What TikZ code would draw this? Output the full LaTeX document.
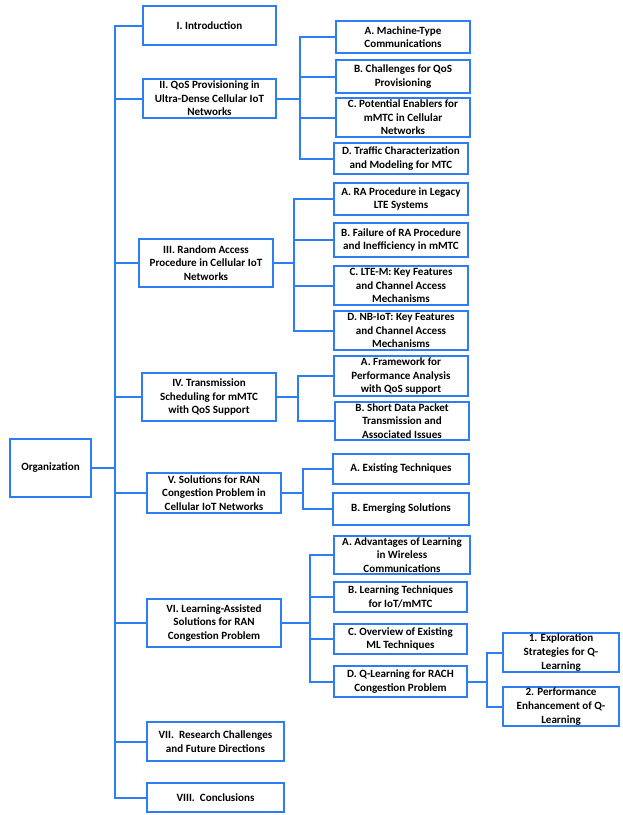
\documentclass[tikz,border=0pt]{standalone}
\usepackage{fontspec}
\setmainfont{Carlito}
\newlength\pxu
\setlength\pxu{0.75pt}
\definecolor{lineblue}{RGB}{45,125,245}
\begin{document}
\begin{tikzpicture}[x=0.75pt,y=-0.75pt,
  box/.style={draw=lineblue,line width=1.5pt,fill=white,align=center,inner sep=1pt,
    font=\fontsize{8.3}{10.2}\selectfont\bfseries,text=black},
  conn/.style={draw=lineblue,line width=1.5pt}]
\useasboundingbox (0,0) rectangle (622,815);
% main sections
\node[box,minimum width=81\pxu,minimum height=58\pxu] (org) at (50.5,468) {Organization};
\node[box,minimum width=133\pxu,minimum height=39\pxu] (intro) at (209.5,25.5) {I. Introduction};
\node[box,minimum width=133\pxu,minimum height=39\pxu] (ii) at (209.5,98.5) {II. QoS Provisioning in\\Ultra-Dense Cellular IoT\\Networks};
\node[box,minimum width=134\pxu,minimum height=48\pxu] (iii) at (206,263) {III. Random Access\\Procedure in Cellular IoT\\Networks};
\node[box,minimum width=134\pxu,minimum height=48\pxu] (iv) at (209,397) {IV. Transmission\\Scheduling for mMTC\\with QoS Support};
\node[box,minimum width=134\pxu,minimum height=40\pxu] (v) at (214,493) {V. Solutions for RAN\\Congestion Problem in\\Cellular IoT Networks};
\node[box,minimum width=134\pxu,minimum height=48\pxu] (vi) at (214,623) {VI. Learning-Assisted\\Solutions for RAN\\Congestion Problem};
\node[box,minimum width=137\pxu,minimum height=39\pxu] (vii) at (215.5,741.5) {VII.~~Research Challenges\\and Future Directions};
\node[box,minimum width=137\pxu,minimum height=29\pxu] (viii) at (215.5,797.5) {VIII.~~Conclusions};
% II children
\node[box,minimum width=134\pxu,minimum height=32\pxu] (iia) at (403,37) {A. Machine-Type\\Communications};
\node[box,minimum width=134\pxu,minimum height=33\pxu] (iib) at (403,76.5) {B. Challenges for QoS\\Provisioning};
\node[box,minimum width=134\pxu,minimum height=39\pxu] (iic) at (403,117.5) {C. Potential Enablers for\\mMTC in Cellular\\Networks};
\node[box,minimum width=134\pxu,minimum height=31\pxu] (iid) at (401,158.5) {D. Traffic Characterization\\and Modeling for MTC};
% III children
\node[box,minimum width=134\pxu,minimum height=32\pxu] (iiia) at (401,199) {A. RA Procedure in Legacy\\LTE Systems};
\node[box,minimum width=134\pxu,minimum height=34\pxu] (iiib) at (401,240) {B. Failure of RA Procedure\\and Inefficiency in mMTC};
\node[box,minimum width=134\pxu,minimum height=39\pxu] (iiic) at (401,285.5) {C. LTE-M: Key Features\\and Channel Access\\Mechanisms};
\node[box,minimum width=134\pxu,minimum height=39\pxu] (iiid) at (401,330.5) {D. NB-IoT: Key Features\\and Channel Access\\Mechanisms};
% IV children
\node[box,minimum width=134\pxu,minimum height=38\pxu] (iva) at (401,376) {A. Framework for\\Performance Analysis\\with QoS support};
\node[box,minimum width=134\pxu,minimum height=38\pxu] (ivb) at (402,421) {B. Short Data Packet\\Transmission and\\Associated Issues};
% V children
\node[box,minimum width=136\pxu,minimum height=30\pxu] (va) at (401,469) {A. Existing Techniques};
\node[box,minimum width=136\pxu,minimum height=32\pxu] (vb) at (401,509) {B. Emerging Solutions};
% VI children
\node[box,minimum width=136\pxu,minimum height=38\pxu] (via) at (402,555) {A. Advantages of Learning\\in Wireless\\Communications};
\node[box,minimum width=133\pxu,minimum height=30\pxu] (vib) at (400.5,597) {B. Learning Techniques\\for IoT/mMTC};
\node[box,minimum width=133\pxu,minimum height=30\pxu] (vic) at (400.5,639) {C. Overview of Existing\\ML Techniques};
\node[box,minimum width=133\pxu,minimum height=31\pxu] (vid) at (400.5,681.5) {D. Q-Learning for RACH\\Congestion Problem};
% VI-D children
\node[box,minimum width=116\pxu,minimum height=39\pxu] (vid1) at (561,652.5) {1. Exploration\\Strategies for Q-\\Learning};
\node[box,minimum width=116\pxu,minimum height=39\pxu] (vid2) at (561,706.5) {2. Performance\\Enhancement of Q-\\Learning};
% branch coordinates
\coordinate (bt) at (115,0);
\coordinate (bii) at (300,0);
\coordinate (biii) at (294,0);
\coordinate (biv) at (298,0);
\coordinate (bv) at (303,0);
\coordinate (bvi) at (310,0);
\coordinate (bvid) at (487,0);
% trunk
\draw[conn] (intro.west) -- (bt |- intro.west) -- (bt |- viii.west) -- (viii.west);
\draw[conn] (org.east) -- (bt |- org.east);
\foreach \n in {ii,iii,iv,v,vi,vii} \draw[conn] (bt |- \n.west) -- (\n.west);
% II
\draw[conn] (iia.west) -- (bii |- iia.west) -- (bii |- iid.west) -- (iid.west);
\draw[conn] (ii.east) -- (bii |- ii.east);
\foreach \n in {iib,iic} \draw[conn] (bii |- \n.west) -- (\n.west);
% III
\draw[conn] (iiia.west) -- (biii |- iiia.west) -- (biii |- iiid.west) -- (iiid.west);
\draw[conn] (iii.east) -- (biii |- iii.east);
\foreach \n in {iiib,iiic} \draw[conn] (biii |- \n.west) -- (\n.west);
% IV
\draw[conn] (iva.west) -- (biv |- iva.west) -- (biv |- ivb.west) -- (ivb.west);
\draw[conn] (iv.east) -- (biv |- iv.east);
% V
\draw[conn] (va.west) -- (bv |- va.west) -- (bv |- vb.west) -- (vb.west);
\draw[conn] (v.east) -- (bv |- v.east);
% VI
\draw[conn] (via.west) -- (bvi |- via.west) -- (bvi |- vid.west) -- (vid.west);
\draw[conn] (vi.east) -- (bvi |- vi.east);
\foreach \n in {vib,vic} \draw[conn] (bvi |- \n.west) -- (\n.west);
% VI-D
\draw[conn] (vid1.west) -- (bvid |- vid1.west) -- (bvid |- vid2.west) -- (vid2.west);
\draw[conn] (vid.east) -- (bvid |- vid.east);
\end{tikzpicture}
\end{document}
